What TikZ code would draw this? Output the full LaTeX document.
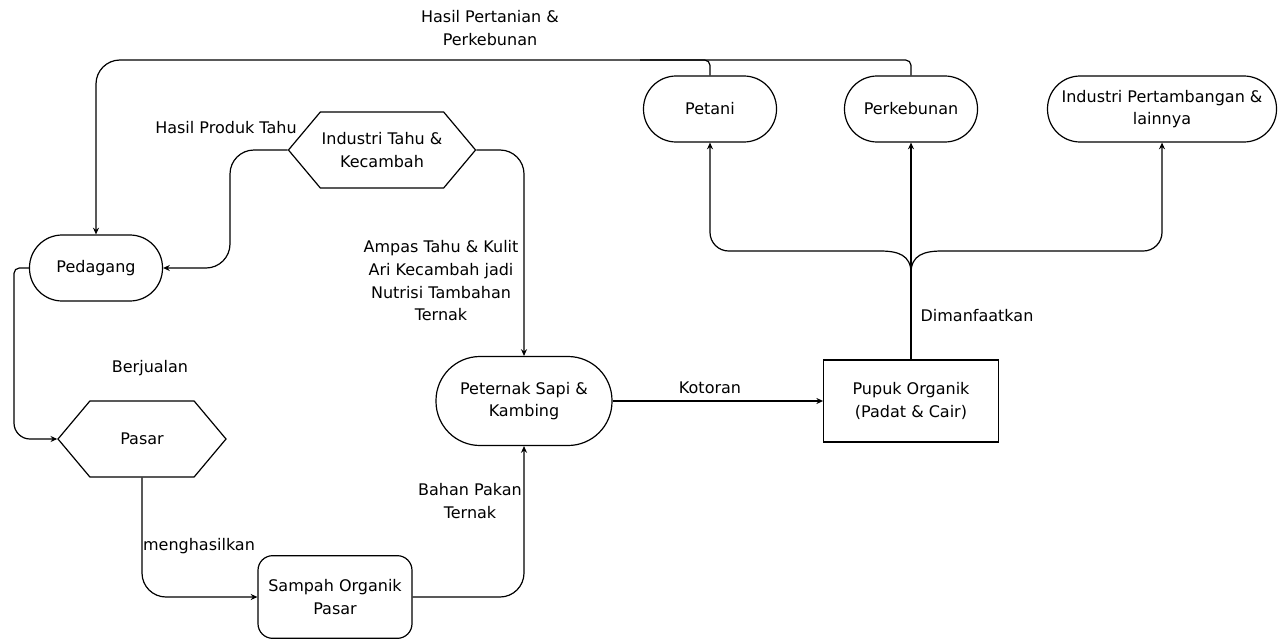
\documentclass[tikz,border=0pt]{standalone}
\usepackage{fontspec}
\setmainfont{DejaVu Sans}
\usetikzlibrary{arrows.meta, shapes.symbols}
\tikzset{%
  pill/.style={draw, line width=0.9pt, rounded corners=24.5pt,
    minimum width=99.75pt, minimum height=49.5pt, inner sep=2pt, align=center},
  hexa/.style={draw, line width=0.9pt, signal, signal to=east and west,
    signal pointer angle=100, minimum width=125pt, minimum height=57pt,
    inner sep=1pt, align=center},
  rbox/.style={draw, line width=0.9pt, rounded corners=11pt,
    minimum width=115.5pt, minimum height=62pt, align=center},
  plainbox/.style={draw, line width=0.9pt,
    minimum width=131pt, minimum height=61.5pt, align=center},
  flow/.style={-{Stealth[length=5pt, width=4.5pt]}, line width=0.9pt},
  lbl/.style={align=center},
  every node/.style={font=\fontsize{12}{17}\selectfont}
}

\begin{document}
\begin{tikzpicture}[x=0.75pt, y=-0.75pt]
		\useasboundingbox (0,0) rectangle (1284,639);
		% boxes
		\node [pill] (pedagang) at (96,268) {Pedagang};
		\node [hexa] (tahu) at (382,150) {Industri Tahu \&\\Kecambah};
		\node [hexa, minimum width=126pt] (pasar) at (142,439) {Pasar};
		\node [rbox] (sampah) at (335,597) {Sampah Organik\\Pasar};
		\node [pill, minimum width=132pt, minimum height=66.75pt, rounded corners=33pt]
		  (peternak) at (524,401) {Peternak Sapi \&\\Kambing};
		\node [plainbox] (pupuk) at (911,401) {Pupuk Organik\\(Padat \& Cair)};
		\node [pill] (petani) at (710,109) {Petani};
		\node [pill] (perkebunan) at (911,109) {Perkebunan};
		\node [pill, minimum width=171.75pt] (tambang) at (1162,109)
		  {Industri Pertambangan \&\\lainnya};
		\coordinate (split) at (911,273);
		% labels
		\node [lbl] (lhasiltani) at (490,28) {Hasil Pertanian \&\\Perkebunan};
		\node [lbl] (lhasiltahu) at (226,128) {Hasil Produk Tahu};
		\node [lbl] (lampas) at (441,281)
		  {Ampas Tahu \& Kulit\\Ari Kecambah jadi\\Nutrisi Tambahan\\Ternak};
		\node [lbl] (ljual) at (150,368) {Berjualan};
		\node [lbl] (lhasilkan) at (199,546) {menghasilkan};
		\node [lbl] (lpakan) at (470,501) {Bahan Pakan\\Ternak};
		\node [lbl] (lkotoran) at (710,388) {Kotoran};
		\node [lbl] (lmanfaat) at (977,316) {Dimanfaatkan};
		% connectors
		\draw [flow] (perkebunan.north) [rounded corners=4pt] |- (500,60)
		  [rounded corners=18pt] -| (pedagang.north);
		\draw [line width=0.9pt, rounded corners=4pt] (petani.north) |- (640,60);
		\draw [flow, rounded corners=18pt] (tahu.west) -| (230,200) |- (pedagang.east);
		\draw [flow, rounded corners=18pt] (tahu.east) -| (peternak.north);
		\draw [flow] (pedagang.west) [rounded corners=4pt] -| (14,350)
		  [rounded corners=12pt] |- (pasar.west);
		\draw [flow, rounded corners=18pt] (pasar.south) |- (sampah.west);
		\draw [flow, rounded corners=18pt] (sampah.east) -| (peternak.south);
		\draw [flow] (peternak.east) -- (pupuk.west);
		\draw [flow] (pupuk.north) -- (perkebunan.south);
		\draw [flow] (split) .. controls ++(0,-18) and ++(18,0) .. (880,251)
		  [rounded corners=14pt] -| (petani.south);
		\draw [flow] (split) .. controls ++(0,-18) and ++(-18,0) .. (942,251)
		  [rounded corners=14pt] -| (tambang.south);
	\end{tikzpicture}
\end{document}
